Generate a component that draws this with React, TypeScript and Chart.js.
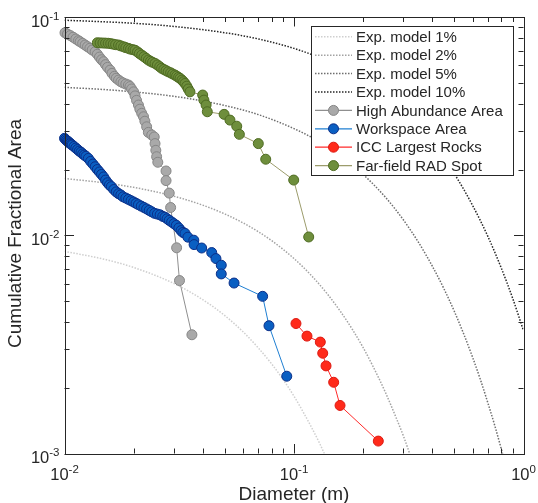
import React, { useEffect, useRef } from 'react';
import { Chart, registerables } from 'chart.js';

Chart.register(...registerables);

// ---------- Data ----------
const model1D = [0.01, 0.015, 0.02, 0.03, 0.04, 0.05, 0.06, 0.07, 0.08, 0.09, 0.10, 0.11, 0.12, 0.13, 0.14];
const model1F = [0.00844, 0.00775, 0.00712, 0.00601, 0.00507, 0.00428, 0.00361, 0.00304, 0.00257, 0.00217, 0.00183, 0.00154, 0.00130, 0.00110, 0.000927];

const model2D = [0.01, 0.015, 0.02, 0.03, 0.04, 0.05, 0.06, 0.07, 0.08, 0.10, 0.12, 0.14, 0.16, 0.18, 0.20, 0.22, 0.25, 0.28, 0.30, 0.32];
const model2F = [0.0182, 0.01737, 0.01658, 0.01509, 0.01374, 0.01251, 0.01139, 0.01037, 0.00944, 0.00782, 0.00648, 0.00537, 0.00445, 0.00369, 0.00306, 0.00253, 0.00191, 0.00144, 0.00120, 0.000991];

const model5D = [0.01, 0.015, 0.02, 0.03, 0.04, 0.05, 0.07, 0.10, 0.13, 0.16, 0.20, 0.25, 0.30, 0.35, 0.40, 0.45, 0.50, 0.55, 0.60, 0.65, 0.70, 0.75, 0.80, 0.82];
const model5F = [0.0476, 0.0465, 0.0454, 0.0433, 0.0412, 0.0393, 0.0357, 0.0308, 0.0267, 0.0231, 0.0190, 0.01495, 0.01174, 0.00922, 0.00724, 0.00569, 0.00447, 0.00351, 0.00276, 0.00217, 0.00170, 0.00134, 0.00105, 0.000953];

const model10D = [0.01, 0.02, 0.03, 0.05, 0.07, 0.10, 0.13, 0.16, 0.20, 0.25, 0.30, 0.35, 0.40, 0.50, 0.60, 0.70, 0.80, 0.90, 1.00];
const model10F = [0.0967, 0.0936, 0.0905, 0.0847, 0.0793, 0.0718, 0.0650, 0.0589, 0.0516, 0.0437, 0.0371, 0.0314, 0.0266, 0.0191, 0.0137, 0.00986, 0.00708, 0.00509, 0.00365];

const highD = [0.01005, 0.0103, 0.0106, 0.0109, 0.0112, 0.0115, 0.0117, 0.0120, 0.0123, 0.0126,
  0.0129, 0.0132, 0.0136, 0.0139, 0.0142, 0.0145, 0.0148, 0.0151, 0.0154, 0.0158,
  0.0161, 0.0165, 0.0168, 0.0172, 0.0176, 0.0180, 0.0185, 0.0190, 0.0193, 0.0196,
  0.0200, 0.0203, 0.0206, 0.0210, 0.0213, 0.0217, 0.0221, 0.0224, 0.0228, 0.0232,
  0.0240, 0.0246, 0.0248, 0.0250, 0.0252, 0.0255, 0.0277, 0.0277, 0.0286, 0.0290,
  0.0308, 0.0317, 0.0359];
const highF = [0.0847, 0.0835, 0.0822, 0.0808, 0.0793, 0.0779, 0.0770, 0.0757, 0.0744, 0.0731,
  0.0719, 0.0706, 0.0693, 0.0675, 0.0655, 0.0637, 0.0624, 0.0605, 0.0588, 0.0571,
  0.0552, 0.0535, 0.0524, 0.0514, 0.0505, 0.0499, 0.0493, 0.0488, 0.0480, 0.0468,
  0.0454, 0.0435, 0.0415, 0.0395, 0.0378, 0.0362, 0.0349, 0.0333, 0.0314, 0.0296,
  0.0288, 0.0282, 0.0263, 0.0245, 0.0229, 0.0216, 0.0197, 0.0178, 0.0156, 0.0134,
  0.00876, 0.00620, 0.00350];

const workD = [0.0100, 0.0101, 0.0102, 0.0103, 0.0104, 0.0105, 0.0106, 0.0107, 0.0108,
  0.0110, 0.0112, 0.0114, 0.0116, 0.0118, 0.0120, 0.0122, 0.0124, 0.0127,
  0.0130, 0.0133, 0.0136, 0.0139, 0.0142, 0.0145, 0.0148, 0.0151, 0.0154, 0.0157, 0.0160,
  0.0164, 0.0168, 0.0172, 0.0176, 0.0180,
  0.0185, 0.0190, 0.0195, 0.0200, 0.0205, 0.0210,
  0.0216, 0.0222, 0.0228, 0.0234, 0.0240,
  0.0247, 0.0254, 0.0261, 0.0268,
  0.0274, 0.0280, 0.0286, 0.0293, 0.0300, 0.0307, 0.0315, 0.0322, 0.0328, 0.0335, 0.0345,
  0.0366, 0.0367, 0.0396, 0.0438, 0.0457, 0.0482, 0.0482, 0.0548, 0.0730, 0.0778, 0.0930];
const workF = [0.0278, 0.0275, 0.0272, 0.0270, 0.0268, 0.0265, 0.0263, 0.0261, 0.0259,
  0.0255, 0.0251, 0.0247, 0.0243, 0.0240, 0.0236, 0.0233, 0.0230, 0.0225,
  0.0218, 0.0212, 0.0206, 0.0200, 0.0195, 0.0190, 0.0185, 0.0179, 0.0174, 0.0170, 0.0167,
  0.0162, 0.0158, 0.0155, 0.0153, 0.0150,
  0.0148, 0.0146, 0.0144, 0.0142, 0.0140, 0.0138,
  0.0136, 0.0134, 0.0132, 0.0130, 0.0128,
  0.0126, 0.0125, 0.0124, 0.0122,
  0.0121, 0.0119, 0.0117, 0.0115, 0.0113, 0.0111, 0.0108, 0.0105, 0.0103, 0.0102, 0.0098,
  0.00949, 0.00906, 0.00874, 0.00833, 0.00782, 0.00729, 0.00665, 0.00604, 0.00525, 0.00385, 0.00226];

const iccD = [0.1020, 0.1139, 0.1302, 0.1334, 0.1379, 0.1489, 0.1587, 0.2330];
const iccF = [0.00394, 0.00345, 0.00324, 0.00288, 0.00252, 0.00212, 0.00166, 0.00114];

const farD = [0.0139, 0.0143, 0.0147, 0.0151, 0.0155, 0.0159, 0.0163, 0.0167, 0.0172, 0.0176,
  0.0181, 0.0185, 0.0190, 0.0194, 0.0199, 0.0203, 0.0208, 0.0212, 0.0217, 0.0222,
  0.0227, 0.0232, 0.0237, 0.0242, 0.0248, 0.0254, 0.0260, 0.0265, 0.0271, 0.0277,
  0.0283, 0.0290, 0.0296, 0.0303, 0.0308, 0.0314, 0.0319, 0.0325, 0.0330, 0.0335,
  0.0341, 0.0346, 0.0352, 0.0400, 0.0405, 0.0414, 0.0419, 0.0496, 0.0526, 0.0563,
  0.0578, 0.0699, 0.0753, 0.0997, 0.1159];
const farF = [0.0762, 0.0761, 0.0760, 0.0759, 0.0758, 0.0755, 0.0751, 0.0747, 0.0744, 0.0737,
  0.0730, 0.0724, 0.0718, 0.0712, 0.0708, 0.0704, 0.0692, 0.0680, 0.0669, 0.0658,
  0.0646, 0.0635, 0.0627, 0.0620, 0.0613, 0.0603, 0.0592, 0.0582, 0.0575, 0.0568,
  0.0561, 0.0555, 0.0548, 0.0542, 0.0536, 0.0529, 0.0523, 0.0514, 0.0505, 0.0496,
  0.0482, 0.0468, 0.0454, 0.0439, 0.0416, 0.0395, 0.0368, 0.0358, 0.0337, 0.0316,
  0.0290, 0.0263, 0.0223, 0.0179, 0.00982];

const xTickExps = [-2, -1, 0];
const yTickExps = [-3, -2, -1];
const xTitle = 'Diameter (m)';
const yTitle = 'Cumulative Fractional Area';
const seriesLabels = [
  'Exp. model 1%', 'Exp. model 2%', 'Exp. model 5%', 'Exp. model 10%',
  'High Abundance Area', 'Workspace Area', 'ICC Largest Rocks', 'Far-field RAD Spot',
];

// ---------- Styles ----------
const FONT = '"Liberation Sans", Arial, Helvetica, sans-serif';
const AXIS_COLOR = '#262626';
const modelColors = ['#cfcfcf', '#a3a3a3', '#6e6e6e', '#262626'];
const dataStyles = [
  { line: '#8f8f8f', fill: '#a9a9a9', edge: '#868686' },
  { line: '#1f7fd2', fill: '#0a5fc2', edge: '#0b2f88' },
  { line: '#ff2a2a', fill: '#ff2a1a', edge: '#dc1a12' },
  { line: '#9c9c6c', fill: '#6e8e3c', edge: '#4e6b22' },
];

function toXY(xs: number[], ys: number[]) {
  return xs.map((x, i) => ({ x, y: ys[i] }));
}

function drawPow(ctx: CanvasRenderingContext2D, exp: number, x: number, baseY: number, mode: 'center' | 'right') {
  const base = '10';
  const sup = String(exp);
  ctx.font = `16.5px ${FONT}`;
  const wb = ctx.measureText(base).width;
  ctx.font = `11.5px ${FONT}`;
  const ws = ctx.measureText(sup).width;
  const total = wb + ws;
  const start = mode === 'center' ? x - total / 2 : x - total;
  ctx.textAlign = 'left';
  ctx.textBaseline = 'alphabetic';
  ctx.font = `16.5px ${FONT}`;
  ctx.fillText(base, start, baseY);
  ctx.font = `11.5px ${FONT}`;
  ctx.fillText(sup, start + wb, baseY - 7);
}

const framePlugin = {
  id: 'matlabFrame',
  afterDraw(chart: any) {
    const ctx: CanvasRenderingContext2D = chart.ctx;
    const { left, right, top, bottom } = chart.chartArea;
    const xs = chart.scales.x;
    const ys = chart.scales.y;
    ctx.save();
    ctx.strokeStyle = AXIS_COLOR;
    ctx.fillStyle = AXIS_COLOR;
    ctx.lineWidth = 1;
    ctx.setLineDash([]);
    // frame
    ctx.strokeRect(Math.round(left) + 0.5, Math.round(top) + 0.5, Math.round(right - left), Math.round(bottom - top));
    // ticks
    const majorLen = 9.5;
    const minorLen = 5;
    ctx.beginPath();
    for (let e = -2; e <= 0; e++) {
      for (let m = 1; m <= 9; m++) {
        const v = m * Math.pow(10, e);
        if (v > 1.0001) break;
        const px = Math.round(xs.getPixelForValue(v)) + 0.5;
        const len = m === 1 ? majorLen : minorLen;
        ctx.moveTo(px, bottom);
        ctx.lineTo(px, bottom - len);
        ctx.moveTo(px, top);
        ctx.lineTo(px, top + len);
      }
    }
    for (let e = -3; e <= -1; e++) {
      for (let m = 1; m <= 9; m++) {
        const v = m * Math.pow(10, e);
        if (v > 0.10001) break;
        const py = Math.round(ys.getPixelForValue(v)) + 0.5;
        const len = m === 1 ? majorLen : minorLen;
        ctx.moveTo(left, py);
        ctx.lineTo(left + len, py);
        ctx.moveTo(right, py);
        ctx.lineTo(right - len, py);
      }
    }
    ctx.stroke();
    // tick labels
    xTickExps.forEach((e) => {
      const px = xs.getPixelForValue(Math.pow(10, e));
      drawPow(ctx, e, px, 479.5, 'center');
    });
    yTickExps.forEach((e) => {
      const py = ys.getPixelForValue(Math.pow(10, e));
      drawPow(ctx, e, left - 5, py + 9.5, 'right');
    });
    // axis titles
    ctx.font = `19px ${FONT}`;
    ctx.textAlign = 'center';
    ctx.textBaseline = 'alphabetic';
    ctx.fillText(xTitle, (left + right) / 2, 500);
    ctx.save();
    ctx.translate(21, 233.5);
    ctx.rotate(-Math.PI / 2);
    ctx.fillText(yTitle, 0, 0);
    ctx.restore();

    // legend
    const bx = 311.5, by = 26.5, bw = 202, bh = 149;
    ctx.fillStyle = '#ffffff';
    ctx.fillRect(bx, by, bw, bh);
    ctx.strokeStyle = AXIS_COLOR;
    ctx.lineWidth = 1;
    ctx.strokeRect(bx, by, bw, bh);
    const rowY0 = 36.8;
    const rowH = 18.4;
    const lx0 = 315, lx1 = 352, mx = 333.5, tx = 356;
    seriesLabels.forEach((lab, i) => {
      const y = rowY0 + i * rowH;
      if (i < 4) {
        ctx.strokeStyle = modelColors[i];
        ctx.lineWidth = 1.5;
        ctx.setLineDash([1.5, 1.5]);
        ctx.beginPath();
        ctx.moveTo(lx0, y);
        ctx.lineTo(lx1, y);
        ctx.stroke();
        ctx.setLineDash([]);
      } else {
        const st = dataStyles[i - 4];
        ctx.strokeStyle = st.line;
        ctx.lineWidth = 1.2;
        ctx.beginPath();
        ctx.moveTo(lx0, y);
        ctx.lineTo(lx1, y);
        ctx.stroke();
        ctx.beginPath();
        ctx.arc(mx, y, 5, 0, Math.PI * 2);
        ctx.fillStyle = st.fill;
        ctx.fill();
        ctx.strokeStyle = st.edge;
        ctx.lineWidth = 1;
        ctx.stroke();
      }
      ctx.fillStyle = AXIS_COLOR;
      ctx.font = `15px ${FONT}`;
      ctx.textAlign = 'left';
      ctx.textBaseline = 'middle';
      ctx.fillText(lab, tx, y + 1);
    });
    ctx.restore();
  },
};

export default function App() {
  const ref = useRef<HTMLCanvasElement | null>(null);
  useEffect(() => {
    document.body.style.margin = '0';
    const canvas = ref.current;
    if (!canvas) return;
    const models = [
      [model1D, model1F], [model2D, model2F], [model5D, model5F], [model10D, model10F],
    ];
    const dataSets = [
      [highD, highF], [workD, workF], [iccD, iccF], [farD, farF],
    ];
    const datasets: any[] = [];
    models.forEach(([d, f], i) => {
      datasets.push({
        label: seriesLabels[i],
        data: toXY(d, f),
        showLine: true,
        borderColor: modelColors[i],
        borderWidth: 1.5,
        borderDash: [1.5, 1.5],
        pointRadius: 0,
        cubicInterpolationMode: 'monotone',
        order: 20 - i,
      });
    });
    dataSets.forEach(([d, f], i) => {
      const st = dataStyles[i];
      datasets.push({
        label: seriesLabels[i + 4],
        data: toXY(d, f),
        showLine: true,
        borderColor: st.line,
        borderWidth: 1,
        pointRadius: 5,
        pointBorderWidth: 1,
        pointBackgroundColor: st.fill,
        pointBorderColor: st.edge,
        clip: false,
        order: 10 - i,
      });
    });
    const chart = new Chart(canvas, {
      type: 'scatter',
      data: { datasets },
      options: {
        animation: false,
        responsive: false,
        events: [],
        layout: { padding: { left: 64.5, top: 17, right: 14.5, bottom: 49.5 } },
        scales: {
          x: { type: 'logarithmic', min: 0.01, max: 1, display: false },
          y: { type: 'logarithmic', min: 0.001, max: 0.1, display: false },
        },
        plugins: { legend: { display: false }, tooltip: { enabled: false } },
      },
      plugins: [framePlugin],
    } as any);
    return () => chart.destroy();
  }, []);
  return (
    <canvas ref={ref} width={538} height={503} style={{ display: 'block', width: 538, height: 503 }} />
  );
}
